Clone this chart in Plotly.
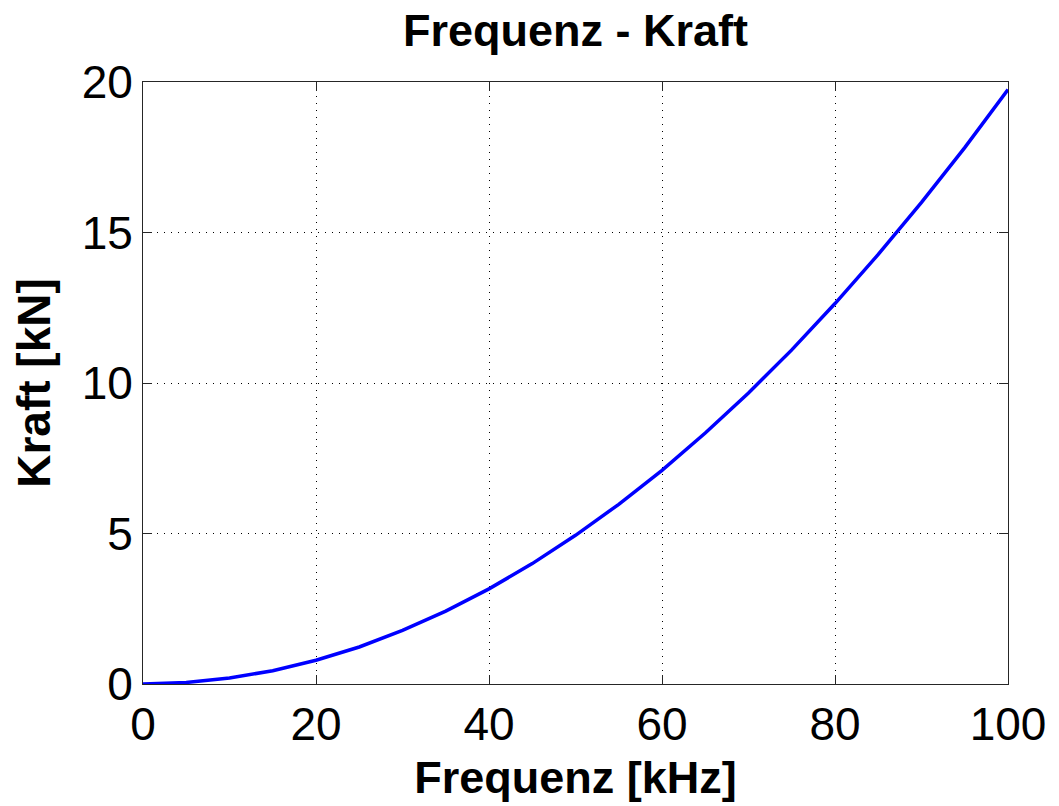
import plotly.graph_objects as go

freq_khz = [0, 5, 10, 15, 20, 25, 30, 35, 40, 45, 50, 55, 60, 65, 70, 75, 80, 85, 90, 95, 100]
kraft_kn = [0.0, 0.05, 0.2, 0.44, 0.79, 1.23, 1.78, 2.42, 3.16, 4.0, 4.94, 5.97,
            7.1, 8.34, 9.67, 11.1, 12.64, 14.27, 16.0, 17.82, 19.75]

x_ticks = [0, 20, 40, 60, 80, 100]
y_ticks = [0, 5, 10, 15, 20]

title_text = "Frequenz - Kraft"
x_title = "Frequenz [kHz]"
y_title = "Kraft [kN]"

FONT = "Liberation Sans, Arial, Helvetica, sans-serif"

fig = go.Figure()
fig.add_trace(go.Scatter(x=freq_khz, y=kraft_kn, mode="lines",
                         line=dict(color="#0000ff", width=3.5), showlegend=False))

axis_common = dict(
    showline=True, linecolor="#262626", linewidth=1, mirror="ticks",
    ticks="inside", ticklen=9, tickcolor="#262626", tickwidth=1,
    showgrid=True, gridcolor="#000000", gridwidth=1, griddash="1px,6px",
    zeroline=False,
    tickfont=dict(family=FONT, size=46, color="#000000"),
)

fig.update_layout(
    width=1059, height=806,
    margin=dict(l=143, r=51, t=82, b=118),
    paper_bgcolor="white", plot_bgcolor="white",
    title=dict(text="<b>" + title_text + "</b>", x=0.5435, xanchor="center",
               y=1 - 30 / 806, yanchor="middle", yref="container",
               font=dict(family=FONT, size=45, color="#000000")),
    xaxis=dict(range=[0, 100], tickvals=x_ticks, ticktext=[str(v) for v in x_ticks],
               title=dict(text="<b>" + x_title + "</b>", standoff=12,
                          font=dict(family=FONT, size=45, color="#000000")),
               **axis_common),
    yaxis=dict(range=[0, 20], tickvals=y_ticks, ticktext=[str(v) for v in y_ticks],
               title=dict(text="<b>" + y_title + "</b>", standoff=16,
                          font=dict(family=FONT, size=46, color="#000000")),
               **axis_common),
)

fig.write_html("out.html")
